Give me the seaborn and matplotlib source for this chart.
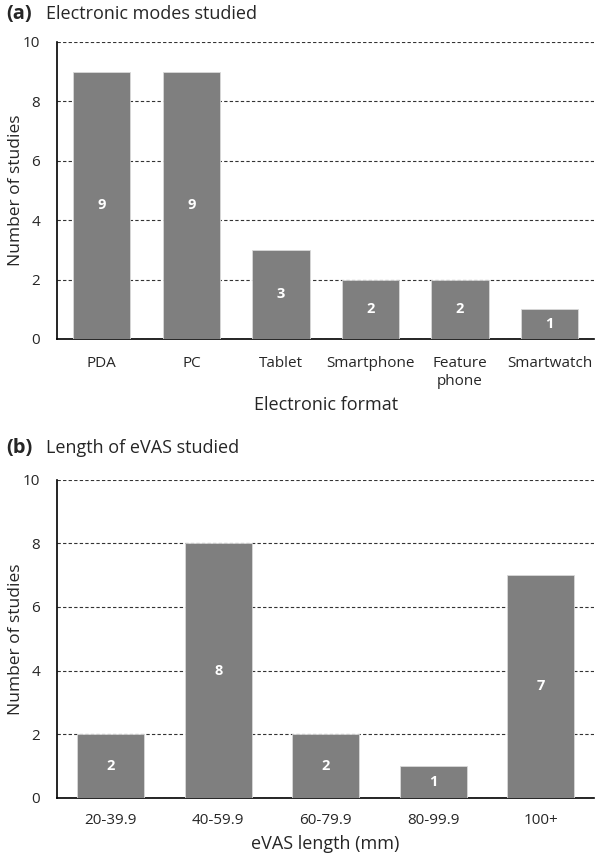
import pandas as pd
import matplotlib.pyplot as plt
import seaborn as sns

# === data ===
formats = ["PDA", "PC", "Tablet", "Smartphone", "Feature\nphone", "Smartwatch"]
format_counts = [9, 9, 3, 2, 2, 1]

lengths = ["20-39.9", "40-59.9", "60-79.9", "80-99.9", "100+"]
length_counts = [2, 8, 2, 1, 7]

sns.set_style("white")
plt.rcParams["font.family"] = ["Open Sans", "DejaVu Sans"]

fig = plt.figure(figsize=(5.97, 8.56), dpi=100)
ax_a = fig.add_axes([0.0955, 0.604, 0.9, 0.347])
ax_b = fig.add_axes([0.0955, 0.068, 0.9, 0.3715])

bar_color = "#7f7f7f"


def draw_panel(ax, cats, vals, width, xlabel, xpad):
    df = pd.DataFrame({"cat": cats, "val": vals})
    sns.barplot(data=df, x="cat", y="val", color=bar_color, width=width,
                edgecolor="#d9d9d9", linewidth=0.6, saturation=1, ax=ax, zorder=3)
    ax.set_ylim(0, 10)
    ax.set_yticks(range(0, 11, 2))
    ax.grid(axis="y", linestyle=(0, (3, 2)), color="#333333", linewidth=0.8, zorder=0)
    ax.set_axisbelow(True)
    for side in ["top", "right"]:
        ax.spines[side].set_visible(False)
    for side in ["left", "bottom"]:
        ax.spines[side].set_color("black")
        ax.spines[side].set_linewidth(1.2)
    ax.tick_params(axis="both", length=0, labelsize=11)
    ax.tick_params(axis="x", pad=xpad)
    ax.tick_params(axis="y", pad=12)
    for lab in ax.get_xticklabels():
        lab.set_linespacing(1.3)
    ax.set_xlabel(xlabel, fontsize=13, labelpad=5)
    ax.set_ylabel("Number of studies", fontsize=12.5)
    # place the y label just inside the left figure edge
    left_px = 24
    ax.yaxis.set_label_coords((left_px - 57) / 537, 0.5)
    for i, v in enumerate(vals):
        ax.text(i, v / 2, str(v), ha="center", va="center", color="white",
                fontsize=10.5, fontweight="bold", zorder=4)


draw_panel(ax_a, formats, format_counts, 0.64, "Electronic format", 12)
draw_panel(ax_b, lengths, length_counts, 0.625, "eVAS length (mm)", 11)

fig.text(0.010, 0.978, "(a)", fontsize=14.5, fontweight="bold", va="baseline")
fig.text(0.077, 0.978, "Electronic modes studied", fontsize=13, va="baseline")
fig.text(0.010, 0.471, "(b)", fontsize=14.5, fontweight="bold", va="baseline")
fig.text(0.077, 0.471, "Length of eVAS studied", fontsize=13, va="baseline")

fig.savefig("out.png", dpi=100)
